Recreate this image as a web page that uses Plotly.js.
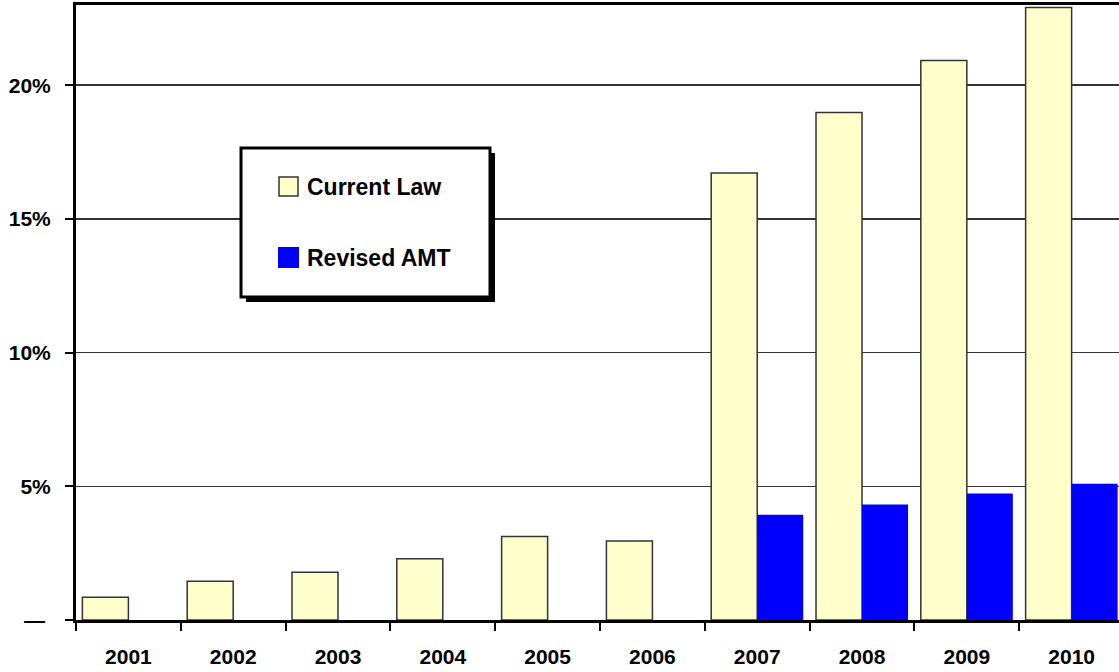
<!DOCTYPE html>
<html>
<head>
<meta charset="utf-8">
<script src="https://cdn.plot.ly/plotly-3.0.1.min.js"></script>
<style>html,body{margin:0;padding:0;overflow:hidden;background:#fff;}#chart{width:1119px;height:672px;}</style>
</head>
<body>
<div id="chart"></div>
<script>
var years = ["2001","2002","2003","2004","2005","2006","2007","2008","2009","2010"];
var currentLaw = [0.85, 1.45, 1.79, 2.29, 3.12, 2.95, 16.72, 18.98, 20.92, 22.91];
var revisedAMT = [null, null, null, null, null, null, 3.94, 4.32, 4.73, 5.10];
var seriesNames = ["Current Law", "Revised AMT"];
var yTickVals = [0, 5, 10, 15, 20];
var yTickText = ["\u2014\u00a0", "5%", "10%", "15%", "20%"];

var W = 1119, H = 672;
var L = 76, R = 0, T = 5, B = 52;
var pw = W - L - R, ph = H - T - B;
function px(x){ return (x - L) / pw; }
function py(y){ return (H - B - y) / ph; }

var font = "Liberation Sans, Arial, Helvetica, sans-serif";

var traces = [
  {type:"bar", name:seriesNames[0], x:years, y:currentLaw,
   marker:{color:"#FFFFCC", line:{color:"#333333", width:1.5}}, showlegend:false,
   hovertemplate:"%{x}: %{y:.1f}%<extra>"+seriesNames[0]+"</extra>"},
  {type:"bar", name:seriesNames[1], x:years, y:revisedAMT,
   marker:{color:"#0000FF", line:{width:0}}, showlegend:false,
   hovertemplate:"%{x}: %{y:.1f}%<extra>"+seriesNames[1]+"</extra>"}
];

var shapes = [
  {type:"rect", xref:"paper", yref:"paper", x0:px(246), x1:px(495), y0:py(302), y1:py(153),
   fillcolor:"#000", line:{width:0}, layer:"above"},
  {type:"rect", xref:"paper", yref:"paper", x0:px(241), x1:px(490), y0:py(297), y1:py(148),
   fillcolor:"#fff", line:{color:"#000", width:3}, layer:"above"},
  {type:"rect", xref:"paper", yref:"paper", x0:px(279), x1:px(298), y0:py(196), y1:py(177),
   fillcolor:"#FFFFCC", line:{color:"#333", width:1.5}, layer:"above"},
  {type:"rect", xref:"paper", yref:"paper", x0:px(278), x1:px(299), y0:py(268), y1:py(247),
   fillcolor:"#0000FF", line:{width:0}, layer:"above"}
];

var annotations = [
  {xref:"paper", yref:"paper", x:px(305), y:py(187), xanchor:"left", yanchor:"middle",
   text:"<b>"+seriesNames[0]+"</b>", showarrow:false, font:{family:font, size:23, color:"#000"}},
  {xref:"paper", yref:"paper", x:px(305), y:py(258), xanchor:"left", yanchor:"middle",
   text:"<b>"+seriesNames[1]+"</b>", showarrow:false, font:{family:font, size:23, color:"#000"}}
];

var layout = {
  width:W, height:H,
  margin:{l:L, r:R, t:T, b:B, pad:0},
  paper_bgcolor:"#fff", plot_bgcolor:"#fff",
  barmode:"group", bargap:0.122, bargroupgap:0,
  showlegend:false,
  font:{family:font, size:21, color:"#000"},
  xaxis:{type:"category", range:[-0.5, 9.452], tickson:"boundaries",
         ticks:"outside", ticklen:8, tickwidth:2, tickcolor:"#000",
         showline:true, linecolor:"#000", linewidth:3, mirror:true,
         showgrid:false, zeroline:false, ticklabelstandoff:16,
         tickfont:{family:font, size:21, color:"#000", weight:"bold"}},
  yaxis:{range:[0, 23], tickvals:yTickVals, ticktext:yTickText,
         ticks:"outside", ticklen:8, tickwidth:2, tickcolor:"#000",
         showline:true, linecolor:"#000", linewidth:3,
         showgrid:true, gridcolor:"#333", gridwidth:1.5, zeroline:false,
         ticklabelstandoff:10,
         tickfont:{family:font, size:21, color:"#000", weight:"bold"}},
  shapes:shapes,
  annotations:annotations
};

Plotly.newPlot("chart", traces, layout, {displayModeBar:false, staticPlot:true});
</script>
</body>
</html>
